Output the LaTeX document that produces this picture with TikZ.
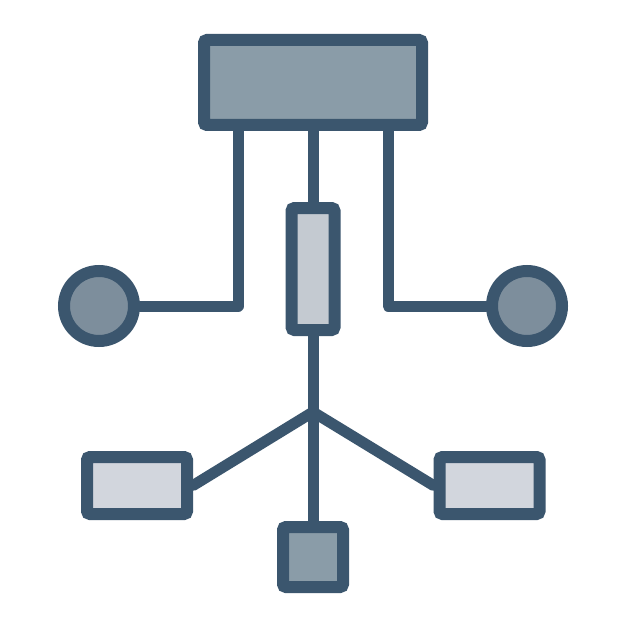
\documentclass[tikz,border=0pt]{standalone}
\usepackage{tikz}
\usepackage{xcolor}
\definecolor{edge-blue}{HTML}{3B566E}
\definecolor{mid-grey}{HTML}{8A9CA8}
\definecolor{dot-grey}{HTML}{7D8E9C}
\definecolor{pale-grey}{HTML}{C4CAD1}
\definecolor{paler-grey}{HTML}{D2D6DD}
\tikzset{
    flow-box/.style = {draw=edge-blue, line width=6pt, rectangle, rounded corners=1.5pt, inner sep=0pt},
    flow-dot/.style = {draw=edge-blue, line width=6pt, circle, inner sep=0pt, minimum size=35pt, fill=dot-grey},
    flow-link/.style = {draw=edge-blue, line width=5.5pt, line cap=round, line join=round},
}

\begin{document}
\begin{tikzpicture}[x=0.5pt,y=-0.5pt]
\useasboundingbox[fill=white] (0,0) rectangle (626,626);
\node [flow-box, fill=mid-grey, minimum width=109pt, minimum height=42.5pt] (head) at (313,82.5) {};
\node [flow-box, fill=pale-grey, minimum width=21.5pt, minimum height=61pt] (bar) at (313,269) {};
\node [flow-dot] (left-dot) at (99,306) {};
\node [flow-dot] (right-dot) at (527,306) {};
\node [flow-box, fill=paler-grey, minimum width=50pt, minimum height=28.5pt] (left-box) at (137,485.5) {};
\node [flow-box, fill=paler-grey, minimum width=50pt, minimum height=28.5pt] (right-box) at (489.5,485.5) {};
\node [flow-box, fill=mid-grey, minimum width=30pt, minimum height=30pt] (foot) at (313,557) {};
\coordinate (fork) at (313,412);
% links
\draw [flow-link] ([xshift=-37.5pt]head.south) |- (left-dot.east);
\draw [flow-link] ([xshift=37.5pt]head.south) |- (right-dot.west);
\draw [flow-link] (head.south) -- (bar.north);
\draw [flow-link] (bar.south) -- (fork);
\draw [flow-link] (fork) -- (left-box.east);
\draw [flow-link] (fork) -- (right-box.west);
\draw [flow-link] (fork) -- (foot.north);
\end{tikzpicture}
\end{document}
